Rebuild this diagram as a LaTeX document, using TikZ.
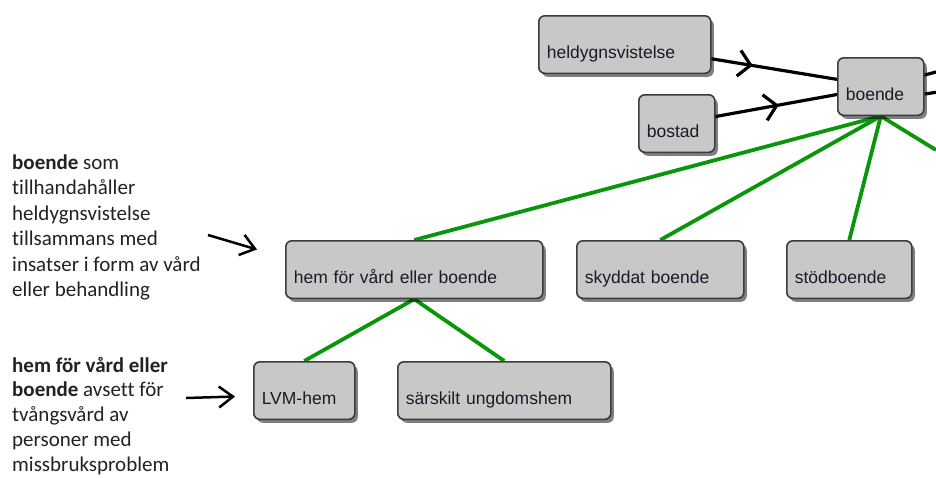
\documentclass[tikz,border=0pt]{standalone}
\usepackage{fontspec}
\setmainfont{Liberation Sans}
\newfontfamily\annofont[Ligatures=NoCommon]{Carlito}
\usetikzlibrary{arrows.meta,shadows,decorations.markings}
\pgfdeclarelayer{bg}
\pgfsetlayers{bg,main}
\definecolor{boxfill}{HTML}{C8C8C8}
\definecolor{boxline}{HTML}{3C3C3C}
\definecolor{boxtext}{HTML}{1A1A2A}
\definecolor{linkgreen}{HTML}{0A960A}
\definecolor{annotext}{HTML}{222222}
\tikzset{
  box/.style={draw=boxline, line width=1.6pt, fill=boxfill, rounded corners=6pt,
    anchor=north west, inner xsep=8pt, inner ysep=0pt, text height=42.5pt, text depth=15pt,
    align=left, font=\fontsize{17.5}{20}\selectfont, text=boxtext,
    drop shadow={shadow xshift=3pt, shadow yshift=-3.5pt, opacity=0.5, fill=black}},
  blackline/.style={draw=black, line width=3.2pt},
  greenline/.style={draw=linkgreen, line width=3.8pt},
  arrowmid/.style={postaction={decorate}, decoration={markings,
    mark=at position 0.5 with {\arrow{Straight Barb[length=12pt,width=26pt]}}}},
  annoline/.style={font=\annofont\fontsize{21}{25}\selectfont, text=annotext, anchor=base west, inner sep=0pt},
  annoarrow/.style={draw=black, line width=2.5pt, -{Straight Barb[length=14pt,width=21pt]}}
}
\begin{document}
\begin{tikzpicture}[x=1pt,y=-1pt]
\useasboundingbox (0,0) rectangle (936,477);
% boxes
\node[box, text width=156pt] (held) at (538,15) {heldygnsvistelse};
\node[box, text width=60pt] (bostad) at (638,94) {bostad};
\node[box, text width=70pt] (boende) at (837,57) {boende};
\node[box, text width=241pt] (hem) at (285,240) {hem för vård eller boende};
\node[box, text width=151pt] (skyddat) at (576,240) {skyddat boende};
\node[box, text width=109pt] (stod) at (786,240) {stödboende};
\node[box, text width=85pt] (lvm) at (253,361) {LVM-hem};
\node[box, text width=197pt] (sars) at (397,361) {särskilt ungdomshem};
% free ends at the right edge
\coordinate (r1) at (936,72);
\coordinate (r2) at (936,92.3);
\coordinate (r3) at (936,150);
% connectors
\begin{pgfonlayer}{bg}
\draw[blackline, arrowmid] (held.center) -- (boende.center);
\draw[blackline, arrowmid] (bostad.center) -- (boende.center);
\draw[blackline] (boende.center) -- (r1);
\draw[blackline] ([yshift=-7.5pt]boende.east) -- (r2);
\draw[greenline] (boende.south) -- (hem.north);
\draw[greenline] (boende.south) -- (skyddat.north);
\draw[greenline] (boende.south) -- (stod.north);
\draw[greenline] (boende.south) -- (r3);
\draw[greenline] (hem.south) -- (lvm.north);
\draw[greenline] (hem.south) -- (sars.north);
\end{pgfonlayer}
% annotations
\node[annoline] (a1) at (12,169.3) {\textbf{boende} som};
\node[annoline] (a2) at (12,194.8) {tillhandahåller};
\node[annoline] (a3) at (12,220.3) {heldygnsvistelse};
\node[annoline] (a4) at (12,245.8) {tillsammans med};
\node[annoline] (a5) at (12,271.3) {insatser i form av vård};
\node[annoline] (a6) at (12,296.8) {eller behandling};
\node[annoline] (b1) at (12,372) {\textbf{hem för vård eller}};
\node[annoline] (b2) at (12,396.8) {\textbf{boende} avsett för};
\node[annoline] (b3) at (12,421.6) {tvångsvård av};
\node[annoline] (b4) at (12,446.4) {personer med};
\node[annoline] (b5) at (12,471.2) {missbruksproblem};
\coordinate (p1) at (208,235);
\coordinate (p2) at (257,249.5);
\coordinate (q1) at (186,398);
\coordinate (q2) at (235,396.5);
\draw[annoarrow] (p1) -- (p2);
\draw[annoarrow] (q1) -- (q2);
\end{tikzpicture}
\end{document}
